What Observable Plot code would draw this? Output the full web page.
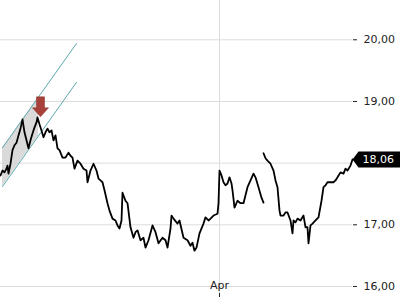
<!DOCTYPE html>
<html><head><meta charset="utf-8">
<script src="https://cdn.jsdelivr.net/npm/d3@7"></script>
<script src="https://cdn.jsdelivr.net/npm/@observablehq/plot@0.6"></script>
<style>body{margin:0;background:#fff} svg{display:block}</style>
</head><body><div id="chart"></div>
<script>
// trading session index (time axis) and price
const session = [0,2,4,6,7,8,10,12,14,16,18,20,22,24,26,28,30,32,34,36,37,39,41,43,45,47,49,51,53,55,57,59,62,65,68,70,72,74,77,80,83,86,87,90,93,96,98,100,102,104,107,109,112,115,117,119,121,122,125,127,130,133,135,137,140,143,145,148,152,155,158,162,165,167,170,171,173,177,179,183,187,190,192,194,196,199,203,205,208,210,213,217,218,219,221,223,225,227,229,231,232,234,237,240,243,245,247,250,253,255,258,261,263,263,263,265,267,270,273,275,277,279,280,283,285,287,290,292,293,295,297,300,303,305,307,308,310,312,315,318,321,323,325,327,330,333,335,337,340,343,345,347,350,352];
const price = [17.80,17.88,17.85,17.91,17.96,17.83,17.99,18.21,18.29,18.33,18.45,18.56,18.71,18.50,18.37,18.24,18.37,18.48,18.58,18.66,18.74,18.63,18.53,18.42,18.50,18.56,18.50,18.53,18.37,18.45,18.24,18.21,18.09,18.09,18.17,18.12,18.09,17.91,18.04,17.99,17.91,17.88,17.69,17.88,17.99,17.88,17.75,17.72,17.69,17.56,17.35,17.23,17.10,17.07,16.99,16.94,17.07,17.52,17.39,17.35,16.96,16.79,16.88,16.91,16.75,16.79,16.63,16.75,16.99,16.88,16.70,16.79,16.75,16.63,16.94,17.15,17.10,17.02,17.07,16.79,16.75,16.66,16.71,16.58,16.63,16.86,17.02,17.12,17.07,17.10,17.15,17.18,17.35,17.88,17.80,17.69,17.64,17.67,17.77,17.67,17.56,17.28,17.39,17.35,17.35,17.48,17.61,17.72,17.83,17.77,17.61,17.44,17.36,NaN,18.16,18.08,18.04,17.99,17.88,17.72,17.61,17.23,17.15,17.15,17.20,17.20,17.07,16.86,17.07,17.04,17.10,17.07,17.15,16.96,16.96,16.70,16.99,17.02,17.07,17.12,17.39,17.61,17.64,17.69,17.69,17.69,17.72,17.77,17.85,17.83,17.91,17.88,17.96,18.06];

const gridTicks = [16, 17, 18, 19, 20];
const labelTicks = [16, 17, 19, 20]; // 18,00 is hidden behind the last-price tag
const aprilSession = 219;
const aprilLabel = "Apr";

// trend channel (two parallel lines) and its shaded part
const channelSession = [2, 76];
const channelUpper = [18.25, 19.94];
const channelLower = [17.62, 19.31];
const shadeSession = [2, 38];
const shadeUpper = [18.25, 19.07];
const shadeLower = [17.62, 18.44];

// sell signal arrow (tip)
const arrowSession = [40];
const arrowTip = [18.75];

const lastSession = 352;
const lastPrice = 18.06;

const fmt = d => d.toFixed(2).replace(".", ",");

const series = session.map((t, i) => ({t, v: price[i]}));
const channel = channelSession.map((t, i) => ({t, hi: channelUpper[i], lo: channelLower[i]}));
const shade = shadeSession.map((t, i) => ({t, hi: shadeUpper[i], lo: shadeLower[i]}));
const arrows = arrowSession.map((t, i) => ({t, v: arrowTip[i]}));
const last = [{t: lastSession, v: lastPrice}];

const arrowSymbol = {draw(ctx) {
  ctx.moveTo(0, 0); ctx.lineTo(-8, -9); ctx.lineTo(-4, -9); ctx.lineTo(-4, -20);
  ctx.lineTo(4, -20); ctx.lineTo(4, -9); ctx.lineTo(8, -9); ctx.closePath();
}};
const tagSymbol = {draw(ctx) {
  ctx.moveTo(0, 0); ctx.lineTo(6, -8); ctx.lineTo(60, -8); ctx.lineTo(60, 8); ctx.lineTo(6, 8); ctx.closePath();
}};

const chart = Plot.plot({
  width: 400, height: 300,
  marginLeft: 0, marginRight: 48, marginTop: 0, marginBottom: 7,
  style: {fontFamily: "DejaVu Sans", fontSize: "11px", color: "#222", background: "#fff"},
  x: {domain: [0, 352], label: null},
  y: {domain: [15.886, 20.637], label: null},
  marks: [
    Plot.gridY(gridTicks, {stroke: "#dcdcdc", strokeOpacity: 1}),
    Plot.gridX([aprilSession], {stroke: "#dcdcdc", strokeOpacity: 1}),
    Plot.areaY(shade, {x: "t", y1: "lo", y2: "hi", fill: "#d6d6d6", fillOpacity: 0.9}),
    Plot.line(channel, {x: "t", y: "hi", stroke: "#5ea9ad", strokeWidth: 1}),
    Plot.line(channel, {x: "t", y: "lo", stroke: "#5ea9ad", strokeWidth: 1}),
    Plot.line(series, {x: "t", y: "v", stroke: "#000", strokeWidth: 1.8}),
    Plot.dot(arrows, {x: "t", y: "v", symbol: arrowSymbol, r: 5, fill: "#a8413a", stroke: "#8a2f28", strokeWidth: 0.5}),
    Plot.axisY(labelTicks, {anchor: "right", tickSize: 4, tickPadding: 7, tickFormat: fmt, label: null}),
    Plot.axisX([aprilSession], {anchor: "bottom", tickSize: 4, tickFormat: () => "", label: null}),
    Plot.text([aprilSession], {x: d => d, frameAnchor: "bottom", dy: -5, text: () => aprilLabel}),
    Plot.dot(last, {x: "t", y: "v", symbol: tagSymbol, r: 5, fill: "#000", stroke: "none"}),
    Plot.text(last, {x: "t", y: "v", text: d => fmt(d.v), dx: 10, textAnchor: "start", fill: "#fff"})
  ]
});
document.getElementById("chart").appendChild(chart);
</script>
</body></html>
